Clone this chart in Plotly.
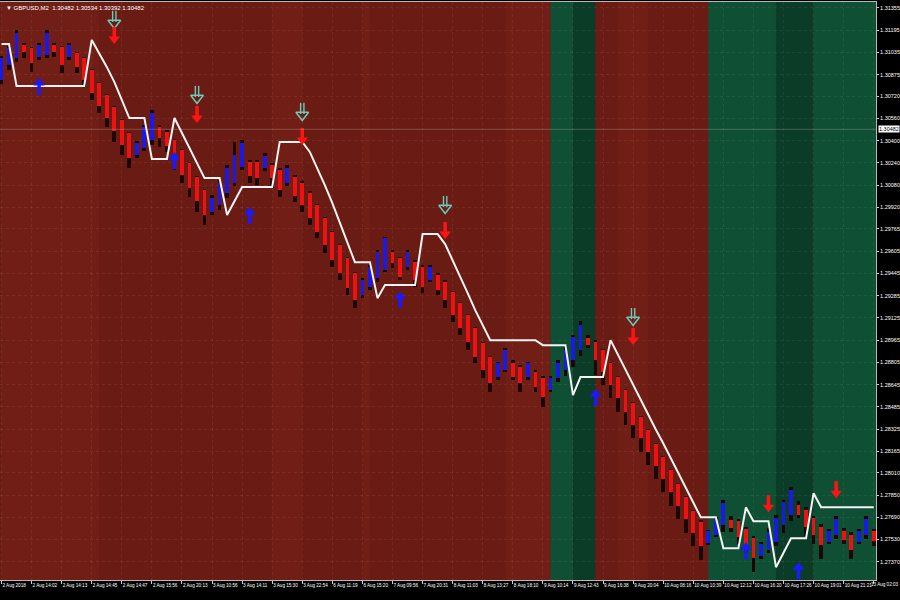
import plotly.graph_objects as go

# ---------------- data ----------------
x_labels = ["2 Aug 2018", "2 Aug 14:02", "2 Aug 14:13", "2 Aug 14:45", "2 Aug 14:47", "2 Aug 15:56",
            "2 Aug 20:13", "3 Aug 10:56", "3 Aug 14:11", "3 Aug 15:30", "3 Aug 22:54", "6 Aug 11:19",
            "6 Aug 15:20", "7 Aug 09:56", "7 Aug 20:31", "8 Aug 11:03", "8 Aug 13:27", "8 Aug 18:10",
            "9 Aug 10:14", "9 Aug 12:43", "9 Aug 16:38", "9 Aug 20:04", "10 Aug 08:16", "10 Aug 10:39",
            "10 Aug 12:12", "10 Aug 16:20", "10 Aug 17:26", "10 Aug 19:01", "10 Aug 21:21", "13 Aug 02:03"]
x_label_step = 4

price_ticks = [1.31355, 1.31195, 1.31035, 1.30875, 1.30720, 1.30560, 1.30400, 1.30240, 1.30080,
               1.29920, 1.29765, 1.29605, 1.29445, 1.29285, 1.29125, 1.28965, 1.28805, 1.28645,
               1.28485, 1.28325, 1.28165, 1.28010, 1.27850, 1.27690, 1.27530, 1.27370, 1.27210]

open_ = [
    1.30837, 1.30945, 1.30995, 1.31089, 1.31067, 1.31003, 1.31017, 1.31089, 1.31075, 1.31003,
    1.31031, 1.30995, 1.30909, 1.30815, 1.30729, 1.30643, 1.30549, 1.30455, 1.30297, 1.30347,
    1.30405, 1.30499, 1.30463, 1.30405, 1.30333, 1.30239, 1.30139, 1.30045, 1.29887, 1.29937,
    1.30023, 1.30095, 1.30211, 1.30247, 1.30247, 1.30203, 1.30225, 1.30189, 1.30095, 1.30139,
    1.30095, 1.30023, 1.29937, 1.29843, 1.29742, 1.29649, 1.29555, 1.29447, 1.29289, 1.29346,
    1.29411, 1.29469, 1.29598, 1.29555, 1.29490, 1.29526, 1.29490, 1.29397, 1.29433, 1.29382,
    1.29310, 1.29231, 1.29145, 1.29051, 1.28943, 1.28842, 1.28699, 1.28749, 1.28799, 1.28771,
    1.28699, 1.28735, 1.28691, 1.28605, 1.28691, 1.28749, 1.28821, 1.28893, 1.28979, 1.28950,
    1.28893, 1.28799, 1.28699, 1.28605, 1.28511, 1.28411, 1.28317, 1.28216, 1.28123, 1.28029,
    1.27928, 1.27834, 1.27733, 1.27654, 1.27503, 1.27561, 1.27633, 1.27669, 1.27662, 1.27604,
    1.27539, 1.27410, 1.27453, 1.27511, 1.27633, 1.27705, 1.27777, 1.27741, 1.27683, 1.27619,
    1.27511, 1.27561, 1.27590, 1.27561, 1.27511, 1.27561, 1.27590]

high = [
    1.31009, 1.31082, 1.31197, 1.31103, 1.31075, 1.31103, 1.31197, 1.31103, 1.31082, 1.31103,
    1.31039, 1.31003, 1.30916, 1.30823, 1.30736, 1.30650, 1.30556, 1.30463, 1.30398, 1.30513,
    1.30621, 1.30513, 1.30477, 1.30412, 1.30340, 1.30247, 1.30146, 1.30052, 1.30009, 1.30117,
    1.30225, 1.30391, 1.30405, 1.30261, 1.30261, 1.30311, 1.30239, 1.30203, 1.30225, 1.30153,
    1.30109, 1.30037, 1.29944, 1.29850, 1.29749, 1.29656, 1.29562, 1.29454, 1.29411, 1.29505,
    1.29613, 1.29706, 1.29613, 1.29562, 1.29613, 1.29541, 1.29505, 1.29505, 1.29447, 1.29397,
    1.29317, 1.29238, 1.29152, 1.29058, 1.28950, 1.28850, 1.28807, 1.28907, 1.28821, 1.28785,
    1.28807, 1.28749, 1.28706, 1.28706, 1.28821, 1.28922, 1.29001, 1.29102, 1.29001, 1.28965,
    1.28900, 1.28807, 1.28706, 1.28612, 1.28519, 1.28418, 1.28324, 1.28223, 1.28130, 1.28036,
    1.27935, 1.27841, 1.27741, 1.27669, 1.27597, 1.27690, 1.27813, 1.27698, 1.27676, 1.27619,
    1.27554, 1.27511, 1.27611, 1.27705, 1.27813, 1.27906, 1.27806, 1.27762, 1.27698, 1.27640,
    1.27604, 1.27698, 1.27611, 1.27583, 1.27604, 1.27698, 1.27604]

low = [
    1.30808, 1.30909, 1.30967, 1.30995, 1.30895, 1.30981, 1.30995, 1.31003, 1.30887, 1.30981,
    1.30887, 1.30787, 1.30693, 1.30599, 1.30499, 1.30391, 1.30297, 1.30203, 1.30275, 1.30326,
    1.30369, 1.30355, 1.30319, 1.30189, 1.30095, 1.29995, 1.29887, 1.29793, 1.29865, 1.29901,
    1.29987, 1.30074, 1.30189, 1.30095, 1.30081, 1.30181, 1.30059, 1.29995, 1.30074, 1.29958,
    1.29887, 1.29793, 1.29699, 1.29591, 1.29490, 1.29397, 1.29289, 1.29195, 1.29267, 1.29325,
    1.29382, 1.29454, 1.29483, 1.29397, 1.29469, 1.29346, 1.29303, 1.29382, 1.29289, 1.29195,
    1.29094, 1.29001, 1.28893, 1.28799, 1.28691, 1.28590, 1.28677, 1.28735, 1.28677, 1.28590,
    1.28677, 1.28590, 1.28483, 1.28590, 1.28663, 1.28706, 1.28771, 1.28850, 1.28907, 1.28713,
    1.28641, 1.28547, 1.28447, 1.28353, 1.28259, 1.28159, 1.28065, 1.27964, 1.27871, 1.27769,
    1.27676, 1.27575, 1.27481, 1.27381, 1.27489, 1.27546, 1.27583, 1.27583, 1.27496, 1.27431,
    1.27295, 1.27388, 1.27431, 1.27481, 1.27575, 1.27662, 1.27683, 1.27554, 1.27496, 1.27388,
    1.27496, 1.27532, 1.27496, 1.27388, 1.27496, 1.27532, 1.27481]

close = [
    1.30995, 1.31067, 1.31175, 1.31039, 1.30959, 1.31089, 1.31175, 1.31039, 1.30945, 1.31089,
    1.30931, 1.30837, 1.30743, 1.30650, 1.30563, 1.30470, 1.30369, 1.30275, 1.30383, 1.30499,
    1.30599, 1.30419, 1.30362, 1.30254, 1.30153, 1.30059, 1.29966, 1.29865, 1.29987, 1.30095,
    1.30203, 1.30297, 1.30383, 1.30146, 1.30131, 1.30290, 1.30131, 1.30045, 1.30203, 1.30001,
    1.29937, 1.29843, 1.29742, 1.29649, 1.29541, 1.29447, 1.29339, 1.29253, 1.29397, 1.29490,
    1.29598, 1.29699, 1.29519, 1.29418, 1.29598, 1.29397, 1.29346, 1.29490, 1.29325, 1.29253,
    1.29145, 1.29051, 1.28950, 1.28842, 1.28749, 1.28655, 1.28799, 1.28893, 1.28699, 1.28655,
    1.28799, 1.28627, 1.28555, 1.28691, 1.28799, 1.28893, 1.28987, 1.29073, 1.28929, 1.28821,
    1.28735, 1.28641, 1.28547, 1.28447, 1.28353, 1.28259, 1.28159, 1.28058, 1.27964, 1.27871,
    1.27769, 1.27676, 1.27575, 1.27481, 1.27590, 1.27676, 1.27791, 1.27611, 1.27546, 1.27489,
    1.27395, 1.27496, 1.27583, 1.27683, 1.27799, 1.27885, 1.27705, 1.27619, 1.27561, 1.27489,
    1.27590, 1.27676, 1.27525, 1.27453, 1.27590, 1.27676, 1.27518]

trail = [
    1.31096, 1.31096, 1.30794, 1.30794, 1.30794, 1.30794, 1.30794, 1.30794, 1.30794, 1.30794,
    1.30794, 1.30794, 1.31125, 1.31031, 1.30931, 1.30823, 1.30693, 1.30563, 1.30563, 1.30563,
    1.30268, 1.30268, 1.30268, 1.30563, 1.30455, 1.30347, 1.30239, 1.30131, 1.30131, 1.30131,
    1.29865, 1.29966, 1.30067, 1.30067, 1.30067, 1.30067, 1.30067, 1.30391, 1.30391, 1.30391,
    1.30391, 1.30319, 1.30203, 1.30081, 1.29951, 1.29814, 1.29670, 1.29526, 1.29526, 1.29526,
    1.29267, 1.29361, 1.29361, 1.29361, 1.29361, 1.29361, 1.29728, 1.29728, 1.29728, 1.29656,
    1.29541, 1.29418, 1.29303, 1.29181, 1.29073, 1.28965, 1.28965, 1.28965, 1.28965, 1.28965,
    1.28965, 1.28965, 1.28929, 1.28929, 1.28929, 1.28929, 1.28569, 1.28699, 1.28699, 1.28699,
    1.28699, 1.28965, 1.28857, 1.28749, 1.28648, 1.28540, 1.28432, 1.28324, 1.28223, 1.28115,
    1.28007, 1.27899, 1.27799, 1.27690, 1.27690, 1.27690, 1.27467, 1.27467, 1.27467, 1.27762,
    1.27662, 1.27662, 1.27662, 1.27331, 1.27431, 1.27539, 1.27539, 1.27539, 1.27863, 1.27762,
    1.27762, 1.27762, 1.27762, 1.27762, 1.27762, 1.27762, 1.27762]

# background trend zones, one per bar: L light red, R red, G green, D dark green
zones = list(
    "LLLLLLLLLLLLL"            # 0-12
    "RRRRRRRRRRRRRRRRRRRRRRR"  # 13-35
    "LLLL"                     # 36-39
    "RRRRRRRR"                 # 40-47
    "L"                        # 48
    "RRRRRRRRRRRRRRRRRR"       # 49-66
    "LLLLLL"                   # 67-72
    "GGG"                      # 73-75
    "DDD"                      # 76-78
    "RRRLLLLRRRRRRRR"          # 79-93
    "GGGGGGGGG"                # 94-102
    "DDDDD"                    # 103-107
    "GGGGGGGGG"                # 108-116
)

sell_idx = [15, 26, 40, 59, 84, 102, 111]
sell_price = [1.31154, 1.30585, 1.30427, 1.29750, 1.28987, 1.27784, 1.27885]
alert_idx = [15, 26, 40, 59, 84]
alert_price = [1.31269, 1.30729, 1.30607, 1.29937, 1.29131]
buy_idx = [5, 23, 33, 53, 79, 99, 106]
buy_price = [1.30794, 1.30261, 1.29865, 1.29260, 1.28555, 1.27453, 1.27309]

symbol_name = "GBPUSD,M2"
header_quote = [1.30482, 1.30534, 1.30392, 1.30482]
last_price = 1.30482

# ---------------- styling ----------------
zone_colors = {"R": "#6a1b13", "L": "#711f16", "G": "#0f4f34", "D": "#0b3c28"}
UP = "#1a1ae8"
DN = "#ee1111"
WICK = "#1c0604"
SELL_C = "#ff1414"
BUY_C = "#1a1aff"
ALERT_C = "#66ccbb"
FONT = "Liberation Sans Narrow, Arial Narrow, Liberation Sans, Arial, sans-serif"
XFS = 4.6

n = len(open_)
idx = list(range(n))
Y_MIN, Y_MAX = 1.27239, 1.31398
X_MIN, X_MAX = -0.2, 116.3
PLOT_H_PX = 578
px = (Y_MAX - Y_MIN) / PLOT_H_PX   # price per pixel, used only for arrow glyph geometry

fig = go.Figure()

# zones as shapes below the grid
start = 0
for i in range(1, n + 1):
    if i == n or zones[i] != zones[start]:
        fig.add_shape(type="rect", xref="x", yref="paper", x0=start, x1=i,
                      y0=0, y1=1, fillcolor=zone_colors[zones[start]],
                      line=dict(width=0), layer="below")
        start = i

# wicks
fig.add_trace(go.Bar(x=idx, base=low, y=[h - l for h, l in zip(high, low)],
                     width=0.5, marker=dict(color=WICK, line=dict(width=0)),
                     hoverinfo="skip", showlegend=False))
# bodies
body_base = [min(o, c) for o, c in zip(open_, close)]
body_h = [max(abs(c - o), 0.00003) for o, c in zip(open_, close)]
body_col = [UP if c >= o else DN for o, c in zip(open_, close)]
fig.add_trace(go.Bar(x=idx, base=body_base, y=body_h, width=0.5,
                     marker=dict(color=body_col, line=dict(width=0)),
                     hoverinfo="skip", showlegend=False))

# trailing line
fig.add_trace(go.Scatter(x=idx, y=trail, mode="lines",
                         line=dict(color="#f4f4f4", width=2),
                         hoverinfo="skip", showlegend=False))


def solid_arrow(xs, ys, color, down):
    s = 1 if down else -1
    fig.add_trace(go.Scatter(x=xs, y=[y + s * 3.5 * px for y in ys], mode="markers",
                             marker=dict(symbol="line-ns", size=8,
                                         line=dict(color=color, width=3.5)),
                             hoverinfo="skip", showlegend=False))
    fig.add_trace(go.Scatter(x=xs, y=[y - s * 3.0 * px for y in ys], mode="markers",
                             marker=dict(symbol="triangle-down" if down else "triangle-up",
                                         size=10, color=color, line=dict(width=0)),
                             hoverinfo="skip", showlegend=False))


def open_arrow(xs, ys, color):
    for dx in (-0.22, 0.22):
        fig.add_trace(go.Scatter(x=[x + dx for x in xs], y=[y + 3.5 * px for y in ys],
                                 mode="markers",
                                 marker=dict(symbol="line-ns", size=8,
                                             line=dict(color=color, width=1.4)),
                                 hoverinfo="skip", showlegend=False))
    fig.add_trace(go.Scatter(x=xs, y=[y - 3.0 * px for y in ys], mode="markers",
                             marker=dict(symbol="triangle-down-open", size=11, color=color,
                                         line=dict(color=color, width=1.5)),
                             hoverinfo="skip", showlegend=False))


open_arrow(alert_idx, alert_price, ALERT_C)
solid_arrow(sell_idx, sell_price, SELL_C, True)
solid_arrow(buy_idx, buy_price, BUY_C, False)

# bid line
fig.add_shape(type="line", xref="paper", x0=0, x1=1, yref="y", y0=last_price, y1=last_price,
              line=dict(color="rgba(200,200,200,0.28)", width=1))

fig.add_annotation(xref="paper", x=1.002, yref="y", y=last_price, xanchor="left",
                   text=f"{last_price:.5f}", showarrow=False, bgcolor="#ffffff",
                   font=dict(color="#000000", size=5.5, family=FONT), borderpad=0)
fig.add_annotation(xref="paper", x=1.004, yref="y", y=price_ticks[-1], xanchor="left",
                   text=f"{price_ticks[-1]:.5f}", showarrow=False,
                   font=dict(color="#ffffff", size=5.5, family=FONT))

# last time label: right-aligned to the window edge so it is not clipped
tick_text = x_labels[:-1] + [""]
fig.add_annotation(xref="paper", x=1.0270, yref="paper", y=0, yanchor="top", xanchor="right",
                   yshift=-1, text=x_labels[-1], showarrow=False, borderpad=0,
                   font=dict(color="#ffffff", size=XFS, family=FONT))

fig.add_annotation(xref="paper", x=0.004, yref="paper", y=0.998, xanchor="left", yanchor="top",
                   text="▼ " + symbol_name + "  " + " ".join(f"{v:.5f}" for v in header_quote),
                   showarrow=False, font=dict(color="#ffffff", size=6, family=FONT))

fig.update_layout(
    width=900, height=600,
    margin=dict(l=0, r=24, t=2, b=20, autoexpand=False),
    paper_bgcolor="#000000", plot_bgcolor="#6a1b13",
    barmode="overlay", bargap=0,
    xaxis=dict(range=[X_MIN, X_MAX], tickvals=idx[::x_label_step], ticktext=tick_text,
               tickangle=0, ticklabelposition="outside right", ticklabeloverflow="allow",
               ticks="outside", ticklen=3, tickcolor="#cccccc", automargin=False,
               tickfont=dict(color="#ffffff", size=XFS, family=FONT),
               showgrid=True, gridcolor="rgba(255,255,255,0.07)", griddash="dot", gridwidth=1,
               showline=True, linecolor="#b8b8b8", linewidth=1, mirror=True, zeroline=False,
               fixedrange=True),
    yaxis=dict(range=[Y_MIN, Y_MAX], side="right", tickvals=price_ticks,
               ticktext=[f"{v:.5f}" for v in price_ticks], automargin=False,
               ticks="outside", ticklen=2, tickcolor="#cccccc",
               tickfont=dict(color="#ffffff", size=5.5, family=FONT),
               showgrid=True, gridcolor="rgba(255,255,255,0.07)", griddash="dot", gridwidth=1,
               showline=True, linecolor="#b8b8b8", linewidth=1, mirror=True, zeroline=False,
               fixedrange=True),
)

fig.write_html("out.html", config={"displayModeBar": False},
               post_script="document.body.style.margin='0';document.body.style.background='#000';")
